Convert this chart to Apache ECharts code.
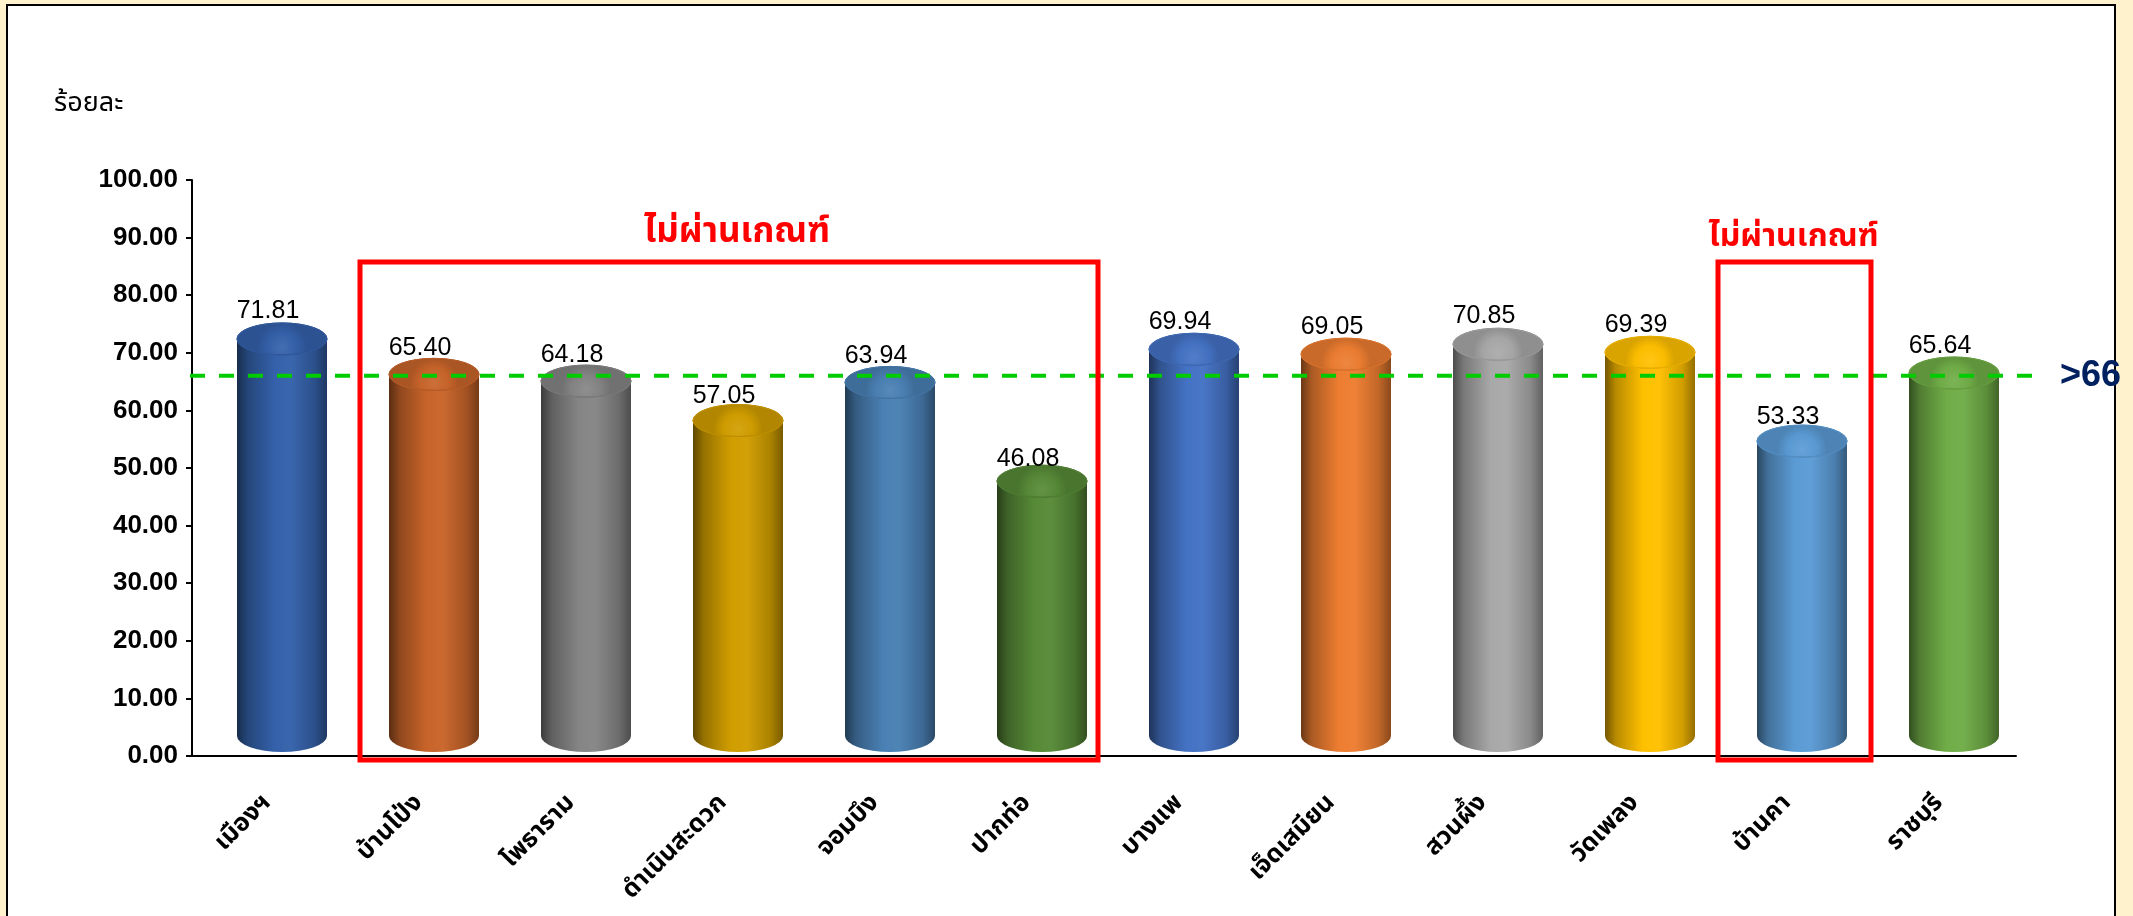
<!DOCTYPE html>
<html>
<head>
<meta charset="utf-8">
<script src="https://cdn.jsdelivr.net/npm/echarts@6/dist/echarts.min.js"></script>
<style>
  html, body { margin: 0; padding: 0; background: #FFF2CC; width: 2133px; height: 916px; overflow: hidden; }
  #frame { position: absolute; left: 6px; top: 4px; width: 2106px; height: 1000px; border: 2px solid #000; background: #fff; }
  #chart { position: absolute; left: 0; top: 0; width: 2133px; height: 916px; }
</style>
</head>
<body>
<div id="frame"></div>
<div id="chart"></div>
<script>
// ---- data ----
const categories = ['เมืองฯ', 'บ้านโป่ง', 'โพธาราม', 'ดำเนินสะดวก', 'จอมบึง', 'ปากท่อ', 'บางแพ', 'เจ็ดเสมียน', 'สวนผึ้ง', 'วัดเพลง', 'บ้านคา', 'ราชบุรี'];
const values = [71.81, 65.40, 64.18, 57.05, 63.94, 46.08, 69.94, 69.05, 70.85, 69.39, 53.33, 65.64];
const barColors = ['#3461AA', '#C8642A', '#858585', '#D19E00', '#4A80B4', '#578A37', '#4472C4', '#ED7D31', '#A8A8A8', '#FFC000', '#5B9BD5', '#70AD47'];
const yMin = 0, yMax = 100, yInterval = 10;
const targetValue = 66;
const targetLabel = '>66';
const yAxisTitle = 'ร้อยละ';
const failText = 'ไม่ผ่านเกณฑ์';
const failGroups = [[1, 5], [10, 10]];

// ---- helpers ----
function shade(hex, f) {
  const n = parseInt(hex.slice(1), 16);
  let r = (n >> 16) & 255, g = (n >> 8) & 255, b = n & 255;
  if (f <= 1) { r *= f; g *= f; b *= f; }
  else { const t = f - 1; r += (255 - r) * t; g += (255 - g) * t; b += (255 - b) * t; }
  return 'rgb(' + Math.round(r) + ',' + Math.round(g) + ',' + Math.round(b) + ')';
}
function ellipsePath(cx, cy, rx, ry) {
  return 'M' + (cx - rx) + ' ' + cy +
    ' A' + rx + ' ' + ry + ' 0 1 0 ' + (cx + rx) + ' ' + cy +
    ' A' + rx + ' ' + ry + ' 0 1 0 ' + (cx - rx) + ' ' + cy + ' Z';
}

const thaiFont = '"Noto Sans Thai", "Noto Sans", "DejaVu Sans", sans-serif';
const numFont = '"Liberation Sans", Arial, sans-serif';

const chart = echarts.init(document.getElementById('chart'), null, { renderer: 'canvas' });

const BAR_OFFSET = 14, RX = 45, RY = 16, FLOOR = 20, HSCALE = 0.96;

chart.setOption({
  backgroundColor: 'transparent',
  animation: false,
  grid: { left: 192, right: 117, top: 180, bottom: 160, containLabel: false },
  xAxis: {
    type: 'category',
    data: categories,
    axisLine: { show: true, lineStyle: { color: '#000', width: 2 } },
    axisTick: { show: false },
    axisLabel: {
      rotate: 45, margin: 44, interval: 0,
      fontSize: 25, fontWeight: 'bold', color: '#000', fontFamily: thaiFont
    }
  },
  yAxis: {
    type: 'value', min: yMin, max: yMax, interval: yInterval,
    splitLine: { show: false },
    axisLine: { show: true, lineStyle: { color: '#000', width: 2 } },
    axisTick: { show: true, inside: false, length: 6, lineStyle: { color: '#000', width: 2 } },
    axisLabel: {
      margin: 14, fontSize: 26, fontWeight: 'bold', color: '#000', fontFamily: numFont,
      formatter: v => v.toFixed(2)
    }
  },
  series: [{
    type: 'custom',
    data: values.map((v, i) => [i, v]),
    encode: { x: 0, y: 1 },
    z: 5,
    renderItem: function (params, api) {
      const idx = api.value(0), v = api.value(1);
      const c = api.coord([idx, v]);
      const c0 = api.coord([idx, 0]);
      const col = barColors[idx];
      const cx = c[0] + BAR_OFFSET;
      const baseY = c0[1] - FLOOR;
      const topY = baseY + (c[1] - c0[1]) * HSCALE;
      const body = 'M' + (cx - RX) + ' ' + topY +
        ' L' + (cx - RX) + ' ' + baseY +
        ' A' + RX + ' ' + RY + ' 0 0 0 ' + (cx + RX) + ' ' + baseY +
        ' L' + (cx + RX) + ' ' + topY + ' Z';
      const bodyFill = {
        type: 'linear', x: 0, y: 0, x2: 1, y2: 0,
        colorStops: [
          { offset: 0, color: shade(col, 0.45) },
          { offset: 0.12, color: shade(col, 0.72) },
          { offset: 0.42, color: shade(col, 1.0) },
          { offset: 0.6, color: shade(col, 1.03) },
          { offset: 0.86, color: shade(col, 0.82) },
          { offset: 1, color: shade(col, 0.58) }
        ]
      };
      const topFill = {
        type: 'radial', x: 0.5, y: 0.75, r: 0.75,
        colorStops: [
          { offset: 0, color: shade(col, 1.08) },
          { offset: 0.6, color: shade(col, 0.98) },
          { offset: 1, color: shade(col, 0.85) }
        ]
      };
      return {
        type: 'group',
        children: [
          { type: 'path', shape: { pathData: body }, style: { fill: bodyFill } },
          { type: 'path', shape: { pathData: ellipsePath(cx, topY, RX, RY) },
            style: { fill: topFill, stroke: shade(col, 0.9), lineWidth: 1 } },
          { type: 'text', x: c[0], y: c[1] - 19,
            style: { text: v.toFixed(2), fontSize: 25, fontFamily: numFont, fill: '#000',
                     align: 'center', verticalAlign: 'bottom' } }
        ]
      };
    }
  }]
});

// ---- annotations positioned through the axes ----
const yT = chart.convertToPixel({ yAxisIndex: 0 }, targetValue);
const y0 = chart.convertToPixel({ yAxisIndex: 0 }, 0);
const y100 = chart.convertToPixel({ yAxisIndex: 0 }, 100);
const cxOf = i => chart.convertToPixel({ xAxisIndex: 0 }, i);

const boxPads = [[60, 70], [70, 83]];
const textShift = [[8, 0], [-1, 4]];
const textSizes = [35, 32];
const graphics = [
  { type: 'text', left: 54, top: 92, z: 100,
    style: { text: yAxisTitle, fontSize: 27, fontFamily: thaiFont, fill: '#000' } },
  { type: 'line', z: 100, shape: { x1: 190, y1: yT, x2: 2042, y2: yT },
    style: { stroke: '#00CC00', lineWidth: 4, lineDash: [15, 14] } },
  { type: 'text', x: 2060, y: yT, z: 100,
    style: { text: targetLabel, fontSize: 36, fontWeight: 'bold', fontFamily: numFont,
             fill: '#002060', align: 'left', verticalAlign: 'middle' } }
];
failGroups.forEach((g, k) => {
  const l = cxOf(g[0]) - boxPads[k][0];
  const r = cxOf(g[1]) + boxPads[k][1];
  const t = y100 + 82, b = y0 + 4;
  graphics.push({ type: 'rect', z: 100, shape: { x: l, y: t, width: r - l, height: b - t },
    style: { fill: 'none', stroke: '#FF0000', lineWidth: 5 } });
  graphics.push({ type: 'text', z: 100, x: (l + r) / 2 + textShift[k][0], y: t - 10 + textShift[k][1],
    style: { text: failText, fontSize: textSizes[k], fontWeight: 'bold', fontFamily: thaiFont, fill: '#FF0000',
             align: 'center', verticalAlign: 'bottom' } });
});
chart.setOption({ graphic: graphics });
</script>
</body>
</html>
